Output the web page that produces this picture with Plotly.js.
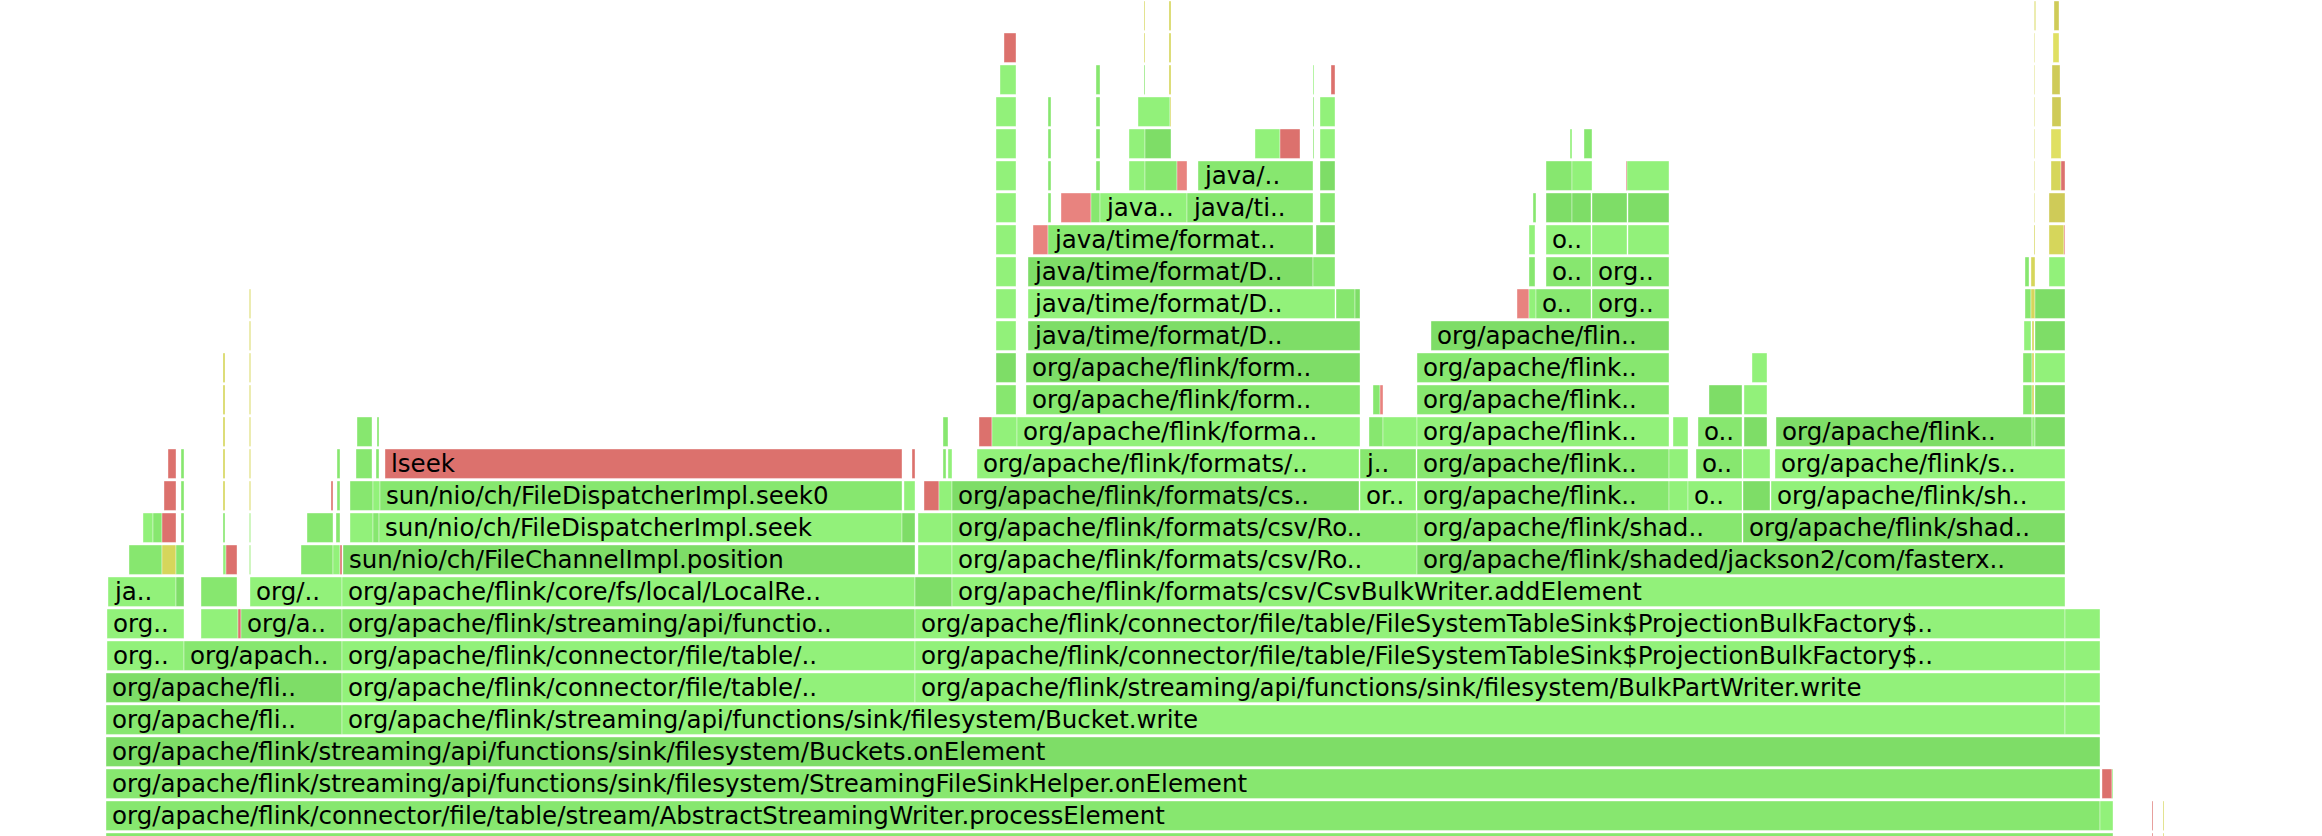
<!DOCTYPE html>
<html>
<head>
<meta charset="utf-8">
<script src="https://cdn.plot.ly/plotly-3.0.1.min.js"></script>
<style>
  html, body { margin: 0; padding: 0; background: #ffffff; }
  #chart { width: 2322px; height: 836px; }
</style>
</head>
<body>
<div id="chart"></div>
<script>
// Flame graph frames, one array per stack depth.
// Each frame: [startSample, endSample, kind, name]  (kind: L/M/D green shades, R red, P pink, Y/O/B/W yellow shades, V pale green)
const depth00 = [[0,2007,'M',''],[2046,2047,'R',''],[2057,2058,'Y','']];
const depth01 = [[0,1994,'M','org/apache/flink/connector/file/table/stream/AbstractStreamingWriter.processElement'],[1994,2007,'L',''],[2046,2047,'R',''],[2057,2058,'Y','']];
const depth02 = [[0,1994,'M','org/apache/flink/streaming/api/functions/sink/filesystem/StreamingFileSinkHelper.onElement'],[1996,2006,'R',''],[2006,2007,'L','']];
const depth03 = [[0,1994,'D','org/apache/flink/streaming/api/functions/sink/filesystem/Buckets.onElement']];
const depth04 = [[0,236,'M','org/apache/fli..'],[236,1959,'L','org/apache/flink/streaming/api/functions/sink/filesystem/Bucket.write'],[1959,1994,'L','']];
const depth05 = [[0,236,'D','org/apache/fli..'],[236,809,'L','org/apache/flink/connector/file/table/..'],[809,1959,'L','org/apache/flink/streaming/api/functions/sink/filesystem/BulkPartWriter.write'],[1959,1994,'L','']];
const depth06 = [[1,78,'L','org..'],[78,236,'M','org/apach..'],[236,809,'L','org/apache/flink/connector/file/table/..'],[809,1959,'L','org/apache/flink/connector/file/table/FileSystemTableSink$ProjectionBulkFactory$..'],[1959,1994,'L','']];
const depth07 = [[1,78,'L','org..'],[95,132,'L',''],[132,135,'R',''],[135,236,'M','org/a..'],[236,809,'M','org/apache/flink/streaming/api/functio..'],[809,1959,'L','org/apache/flink/connector/file/table/FileSystemTableSink$ProjectionBulkFactory$..'],[1959,1994,'L','']];
const depth08 = [[2,70,'L','ja..'],[70,78,'D',''],[95,131,'M',''],[144,236,'L','org/..'],[236,809,'L','org/apache/flink/core/fs/local/LocalRe..'],[809,846,'D',''],[846,1959,'L','org/apache/flink/formats/csv/CsvBulkWriter.addElement']];
const depth09 = [[23,56,'M',''],[56,70,'Y',''],[70,78,'M',''],[117,120,'L',''],[120,131,'R',''],[143,145,'V',''],[195,227,'M',''],[227,234,'L',''],[234,236,'R',''],[237,809,'D','sun/nio/ch/FileChannelImpl.position'],[812,846,'L',''],[846,1311,'L','org/apache/flink/formats/csv/Ro..'],[1311,1959,'D','org/apache/flink/shaded/jackson2/com/fasterx..']];
const depth10 = [[37,47,'L',''],[47,56,'M',''],[56,70,'R',''],[75,78,'M',''],[117,119,'M',''],[143,145,'V',''],[201,227,'M',''],[230,234,'M',''],[244,267,'L',''],[267,273,'M',''],[273,796,'L','sun/nio/ch/FileDispatcherImpl.seek'],[796,809,'D',''],[812,846,'L',''],[846,1311,'M','org/apache/flink/formats/csv/Ro..'],[1311,1636,'M','org/apache/flink/shad..'],[1637,1959,'D','org/apache/flink/shad..']];
const depth11 = [[58,70,'R',''],[75,78,'M',''],[117,119,'Y',''],[143,145,'W',''],[225,227,'R',''],[231,234,'M',''],[244,267,'M',''],[267,274,'L',''],[274,796,'M','sun/nio/ch/FileDispatcherImpl.seek0'],[798,809,'L',''],[818,833,'R',''],[833,846,'L',''],[846,1253,'D','org/apache/flink/formats/cs..'],[1254,1310,'L','or..'],[1311,1563,'M','org/apache/flink..'],[1563,1582,'L',''],[1582,1636,'L','o..'],[1637,1664,'D',''],[1665,1959,'L','org/apache/flink/sh..']];
const depth12 = [[62,70,'R',''],[75,78,'M',''],[117,119,'Y',''],[143,145,'W',''],[231,234,'M',''],[250,266,'M',''],[270,273,'M',''],[279,796,'R','lseek'],[806,809,'R',''],[837,840,'M',''],[842,846,'L',''],[871,1253,'L','org/apache/flink/formats/..'],[1254,1310,'M','j..'],[1311,1563,'M','org/apache/flink..'],[1563,1582,'L',''],[1590,1636,'M','o..'],[1637,1664,'L',''],[1669,1959,'L','org/apache/flink/s..']];
const depth13 = [[117,119,'Y',''],[143,145,'W',''],[251,266,'M',''],[271,273,'M',''],[837,842,'M',''],[873,886,'R',''],[886,911,'L',''],[911,1254,'L','org/apache/flink/forma..'],[1263,1277,'M',''],[1277,1311,'L',''],[1311,1563,'L','org/apache/flink..'],[1567,1582,'L',''],[1592,1636,'M','o..'],[1638,1661,'D',''],[1670,1926,'D','org/apache/flink..'],[1926,1929,'L',''],[1929,1959,'D','']];
const depth14 = [[117,119,'Y',''],[143,145,'W',''],[890,910,'M',''],[920,1254,'M','org/apache/flink/form..'],[1267,1274,'M',''],[1274,1277,'P',''],[1311,1563,'M','org/apache/flink..'],[1603,1636,'D',''],[1638,1661,'L',''],[1917,1926,'M',''],[1926,1928,'Y',''],[1929,1959,'D','']];
const depth15 = [[117,119,'Y',''],[143,145,'W',''],[890,910,'D',''],[920,1254,'D','org/apache/flink/form..'],[1311,1563,'M','org/apache/flink..'],[1646,1661,'L',''],[1917,1926,'M',''],[1926,1928,'Y',''],[1929,1959,'L','']];
const depth16 = [[143,145,'W',''],[890,910,'L',''],[922,1254,'D','java/time/format/D..'],[1325,1563,'D','org/apache/flin..'],[1918,1925,'L',''],[1926,1928,'Y',''],[1929,1959,'D','']];
const depth17 = [[143,145,'W',''],[890,910,'L',''],[922,1229,'L','java/time/format/D..'],[1230,1249,'M',''],[1249,1254,'D',''],[1411,1423,'P',''],[1423,1430,'L',''],[1430,1485,'M','o..'],[1486,1563,'M','org..'],[1919,1925,'M',''],[1925,1929,'Y',''],[1929,1959,'D','']];
const depth18 = [[890,910,'L',''],[922,1207,'D','java/time/format/D..'],[1207,1229,'M',''],[1423,1429,'M',''],[1440,1485,'M','o..'],[1486,1563,'M','org..'],[1919,1923,'M',''],[1925,1929,'Y',''],[1943,1959,'L','']];
const depth19 = [[890,910,'L',''],[927,942,'P',''],[942,1207,'M','java/time/format..'],[1210,1229,'D',''],[1423,1429,'L',''],[1440,1485,'L','o..'],[1486,1521,'L',''],[1522,1563,'L',''],[1928,1929,'Y',''],[1943,1958,'Y',''],[1958,1959,'P','']];
const depth20 = [[890,910,'L',''],[942,945,'M',''],[955,985,'P',''],[985,994,'M',''],[994,1081,'L','java..'],[1081,1207,'M','java/ti..'],[1214,1229,'M',''],[1427,1430,'M',''],[1440,1466,'D',''],[1466,1485,'D',''],[1486,1521,'D',''],[1522,1563,'D',''],[1928,1929,'W',''],[1943,1959,'O','']];
const depth21 = [[890,910,'L',''],[942,945,'M',''],[990,994,'M',''],[1023,1039,'L',''],[1039,1071,'M',''],[1071,1081,'P',''],[1092,1207,'M','java/..'],[1214,1229,'D',''],[1440,1466,'M',''],[1466,1486,'L',''],[1520,1521,'R',''],[1521,1563,'L',''],[1928,1929,'W',''],[1945,1955,'Y',''],[1955,1959,'R','']];
const depth22 = [[890,910,'L',''],[942,945,'M',''],[990,994,'M',''],[1023,1039,'L',''],[1039,1065,'D',''],[1149,1174,'L',''],[1174,1194,'R',''],[1207,1208,'M',''],[1214,1229,'L',''],[1464,1466,'L',''],[1478,1486,'M',''],[1928,1929,'W',''],[1945,1955,'B','']];
const depth23 = [[890,910,'L',''],[942,945,'M',''],[990,994,'M',''],[1032,1064,'L',''],[1064,1065,'Y',''],[1207,1208,'M',''],[1214,1229,'L',''],[1928,1929,'W',''],[1946,1955,'O','']];
const depth24 = [[894,910,'L',''],[990,994,'M',''],[1038,1039,'M',''],[1063,1065,'Y',''],[1207,1208,'L',''],[1225,1229,'R',''],[1928,1929,'W',''],[1946,1954,'O','']];
const depth25 = [[898,910,'R',''],[1038,1039,'Y',''],[1063,1065,'Y',''],[1928,1929,'W',''],[1947,1953,'B','']];
const depth26 = [[1038,1039,'Y',''],[1063,1065,'Y',''],[1928,1930,'W',''],[1948,1953,'O','']];

const stack = [depth00, depth01, depth02, depth03, depth04, depth05, depth06, depth07, depth08, depth09,
  depth10, depth11, depth12, depth13, depth14, depth15, depth16, depth17, depth18, depth19,
  depth20, depth21, depth22, depth23, depth24, depth25, depth26];

// Styles
const kindColor = {
  L: '#92f17a', M: '#87e76f', D: '#7edd67', V: '#c6f4b3',
  R: '#dc716d', P: '#e8837f',
  Y: '#d6d65b', O: '#cfcb58', B: '#e0e063', W: '#e8e8a0'
};

const ys = [], xs = [], bases = [], colors = [], annotations = [];
stack.forEach((frames, depth) => {
  frames.forEach(([s, e, kind, name]) => {
    ys.push(depth);
    bases.push(s);
    xs.push(e - s);
    colors.push(kindColor[kind]);
    if (name) {
      annotations.push({
        x: s, y: depth, xref: 'x', yref: 'y', text: name, showarrow: false,
        xanchor: 'left', yanchor: 'middle', xshift: 4, yshift: 0,
        font: { family: 'DejaVu Sans, Verdana, sans-serif', size: 24.5, color: '#000000' }
      });
    }
  });
});

const trace = {
  type: 'bar', orientation: 'h',
  y: ys, x: xs, base: bases, width: 0.92,
  marker: { color: colors, line: { color: 'rgba(255,255,255,0.75)', width: 0.5 } },
  hoverinfo: 'skip', textposition: 'none'
};

const layout = {
  width: 2322, height: 836,
  margin: { l: 0, r: 0, t: 0, b: 0, pad: 0 },
  paper_bgcolor: '#ffffff', plot_bgcolor: '#ffffff',
  showlegend: false,
  xaxis: { range: [-106, 2216], visible: false, fixedrange: true },
  yaxis: { range: [0.367, 26.492], visible: false, fixedrange: true },
  annotations: annotations
};

Plotly.newPlot('chart', [trace], layout, { displayModeBar: false, staticPlot: true });
</script>
</body>
</html>
